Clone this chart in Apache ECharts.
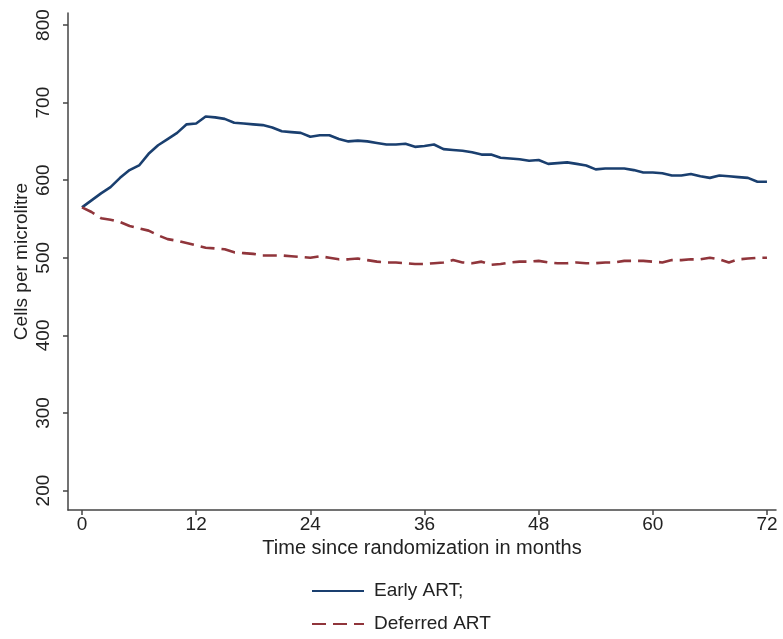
<!DOCTYPE html>
<html>
<head>
<meta charset="utf-8">
<script src="https://cdn.jsdelivr.net/npm/echarts@6/dist/echarts.min.js"></script>
<style>
html,body{margin:0;padding:0;background:#fff;}
#chart{width:783px;height:639px;}
</style>
</head>
<body>
<div id="chart"></div>
<script>
var months = [];
for (var m = 0; m <= 72; m++) months.push(m);

var earlyART = [565,574,583,591,603,613,619,634,645,653,661,672,673,682,681,679,674,673,672,671,
  668,663,662,661,656,658,658,653,650,651,650,648,646,646,647,643,644,646,640,639,
  638,636,633,633,629,628,627,625,626,621,622,623,621,619,614,615,615,615,613,610,
  610,609,606,606,608,605,603,606,605,604,603,598,598];

var deferredART = [565,559,551,549,546,541,538,535,529,524,522,519,516,513,512,511,507,506,505,503,
  503,503,502,501,500,502,500,498,498,499,497,495,494,494,493,492,492,493,494,497,
  494,493,495,491,492,494,495,495,496,494,493,493,494,493,493,494,494,496,496,496,
  495,494,497,497,498,498,500,498,494,498,499,500,500];

var xTicks = [0,12,24,36,48,60,72];
var yTicks = [200,300,400,500,600,700,800];

var seriesNames = ['Early ART;', 'Deferred ART'];

function pairs(xs, ys){ return xs.map(function(x,i){ return [x, ys[i]]; }); }

var font = 'Liberation Sans, Arial, sans-serif';
var chart = echarts.init(document.getElementById('chart'));
chart.setOption({
  animation: false,
  backgroundColor: '#fff',
  textStyle: { fontFamily: font },
  grid: { left: 68, right: 7, top: 13, bottom: 129, containLabel: false },
  xAxis: {
    type: 'value', min: -1.47, max: 72.95,
    name: 'Time since randomization in months',
    nameLocation: 'middle', nameGap: 28, nameMoveOverlap: false,
    nameTextStyle: { fontSize: 20, color: '#222', fontFamily: font },
    axisLine: { show: true, onZero: false, lineStyle: { color: '#444', width: 1.5 } },
    axisTick: { show: true, length: 5, customValues: xTicks, lineStyle: { color: '#444', width: 1.5 } },
    axisLabel: { customValues: xTicks, fontSize: 19, color: '#222', margin: 5, fontFamily: font },
    splitLine: { show: false }
  },
  yAxis: {
    type: 'value', min: 174.9, max: 815.5,
    name: 'Cells per microlitre',
    nameLocation: 'middle', nameGap: 37, nameRotate: 90, nameMoveOverlap: false,
    nameTextStyle: { fontSize: 19, color: '#222', fontFamily: font },
    axisLine: { show: true, onZero: false, lineStyle: { color: '#444', width: 1.5 } },
    axisTick: { show: true, length: 5, customValues: yTicks, lineStyle: { color: '#444', width: 1.5 } },
    axisLabel: { customValues: yTicks, rotate: 90, fontSize: 19, color: '#222', margin: 15, fontFamily: font },
    splitLine: { show: false }
  },
  legend: {
    orient: 'vertical', left: 311, top: 581, padding: 0,
    itemWidth: 52, itemHeight: 14, itemGap: 13,
    itemStyle: { opacity: 0 },
    textStyle: { fontSize: 19, lineHeight: 20, color: '#222', fontFamily: font, padding: [0, 0, 0, 5] },
    data: seriesNames
  },
  series: [
    {
      name: seriesNames[0], type: 'line', data: pairs(months, earlyART),
      symbol: 'none', smooth: false,
      lineStyle: { color: '#1a3f6f', width: 2.6 },
      itemStyle: { color: '#1a3f6f' }
    },
    {
      name: seriesNames[1], type: 'line', data: pairs(months, deferredART),
      symbol: 'none', smooth: false,
      lineStyle: { color: '#90353b', width: 2.6, type: [14, 7] },
      itemStyle: { color: '#90353b' }
    }
  ]
});
</script>
</body>
</html>
